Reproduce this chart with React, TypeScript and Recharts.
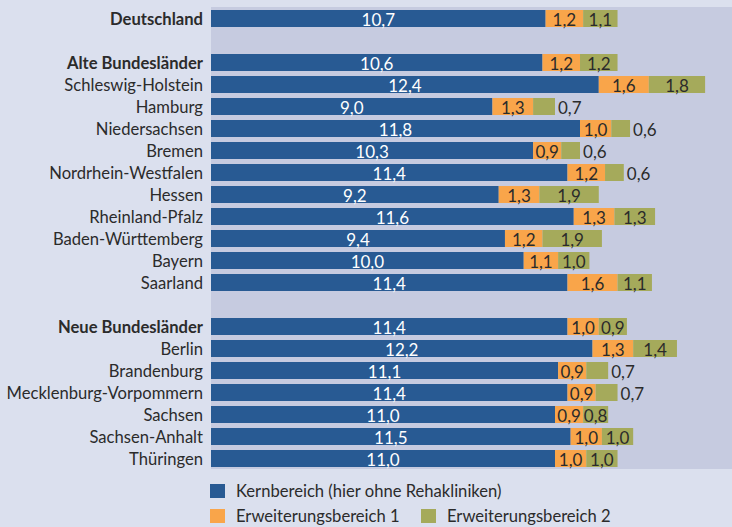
import React from 'react';
import { BarChart, Bar, XAxis, YAxis, CartesianGrid, LabelList } from 'recharts';

const categories = [
  'Deutschland', '',
  'Alte Bundesländer', 'Schleswig-Holstein', 'Hamburg', 'Niedersachsen', 'Bremen',
  'Nordrhein-Westfalen', 'Hessen', 'Rheinland-Pfalz', 'Baden-Württemberg', 'Bayern', 'Saarland',
  '',
  'Neue Bundesländer', 'Berlin', 'Brandenburg', 'Mecklenburg-Vorpommern', 'Sachsen',
  'Sachsen-Anhalt', 'Thüringen',
];
const kern = [10.7, null, 10.6, 12.4, 9.0, 11.8, 10.3, 11.4, 9.2, 11.6, 9.4, 10.0, 11.4, null, 11.4, 12.2, 11.1, 11.4, 11.0, 11.5, 11.0];
const erw1 = [1.2, null, 1.2, 1.6, 1.3, 1.0, 0.9, 1.2, 1.3, 1.3, 1.2, 1.1, 1.6, null, 1.0, 1.3, 0.9, 0.9, 0.9, 1.0, 1.0];
const erw2 = [1.1, null, 1.2, 1.8, 0.7, 0.6, 0.6, 0.6, 1.9, 1.3, 1.9, 1.0, 1.1, null, 0.9, 1.4, 0.7, 0.7, 0.8, 1.0, 1.0];
const boldRows = ['Deutschland', 'Alte Bundesländer', 'Neue Bundesländer'];

const seriesNames = ['Kernbereich (hier ohne Rehakliniken)', 'Erweiterungsbereich 1', 'Erweiterungsbereich 2'];
const colors = ['#285a93', '#f9a54a', '#a5aa5b'];

const data = categories.map((name, i) => ({
  id: `r${i}`,
  name,
  kern: kern[i],
  erw1: erw1[i],
  erw2: erw2[i],
}));

const FONT = 'Lato, sans-serif';
const TEXT = '#2b2b2b';

const fmt = (v: number) => v.toFixed(1).replace('.', ',');

const CategoryTick = (props: any) => {
  const { x, y, payload } = props;
  const idx = Number(String(payload.value).slice(1));
  const name = categories[idx];
  if (!name) return null;
  return (
    <text x={x} y={y + 1} textAnchor="end" dominantBaseline="central" fontSize={16.6}
      fontFamily={FONT} fontWeight={boldRows.includes(name) ? 700 : 400} fill={TEXT}>
      {name}
    </text>
  );
};

const makeLabel = (color: string, outsideBelow?: number) => (props: any) => {
  const { x, y, width, height, value } = props;
  if (value == null) return null;
  const outside = outsideBelow !== undefined && value < outsideBelow;
  const tx = outside ? x + width + 3 : x + width / 2;
  return (
    <text x={tx} y={y + height / 2 + 1} textAnchor={outside ? 'start' : 'middle'}
      dominantBaseline="central" fontSize={17} fontFamily={FONT}
      fill={outside ? TEXT : color}>
      {fmt(value)}
    </text>
  );
};

const LegendItem = ({ color, label, left, top }: { color: string; label: string; left: number; top: number }) => (
  <div style={{ position: 'absolute', left, top, display: 'flex', alignItems: 'center' }}>
    <div style={{ width: 15, height: 14, background: color, marginRight: 11 }} />
    <span style={{ fontFamily: FONT, fontSize: 16.6, color: TEXT, whiteSpace: 'nowrap' }}>{label}</span>
  </div>
);

export default function App() {
  return (
    <div style={{ position: 'absolute', left: 0, top: 0, width: 732, height: 527, background: '#dbe0ee', overflow: 'hidden' }}>
      <BarChart width={732} height={527} data={data} layout="vertical"
        margin={{ top: 7, right: 0, bottom: 58, left: 0 }} barSize={17}>
        <CartesianGrid horizontal={false} vertical={false} fill="#c6cbe0" />
        <XAxis type="number" hide domain={[0, 16.66]} allowDataOverflow />
        <YAxis type="category" dataKey="id" width={211} interval={0}
          axisLine={false} tickLine={false} tick={<CategoryTick />} />
        <Bar dataKey="kern" name={seriesNames[0]} stackId="a" fill={colors[0]} isAnimationActive={false}>
          <LabelList dataKey="kern" content={makeLabel('#ffffff')} />
        </Bar>
        <Bar dataKey="erw1" name={seriesNames[1]} stackId="a" fill={colors[1]} isAnimationActive={false}>
          <LabelList dataKey="erw1" content={makeLabel(TEXT)} />
        </Bar>
        <Bar dataKey="erw2" name={seriesNames[2]} stackId="a" fill={colors[2]} isAnimationActive={false}>
          <LabelList dataKey="erw2" content={makeLabel(TEXT, 0.8)} />
        </Bar>
      </BarChart>
      <LegendItem color={colors[0]} label={seriesNames[0]} left={210} top={481} />
      <LegendItem color={colors[1]} label={seriesNames[1]} left={210} top={506} />
      <LegendItem color={colors[2]} label={seriesNames[2]} left={421} top={506} />
    </div>
  );
}
